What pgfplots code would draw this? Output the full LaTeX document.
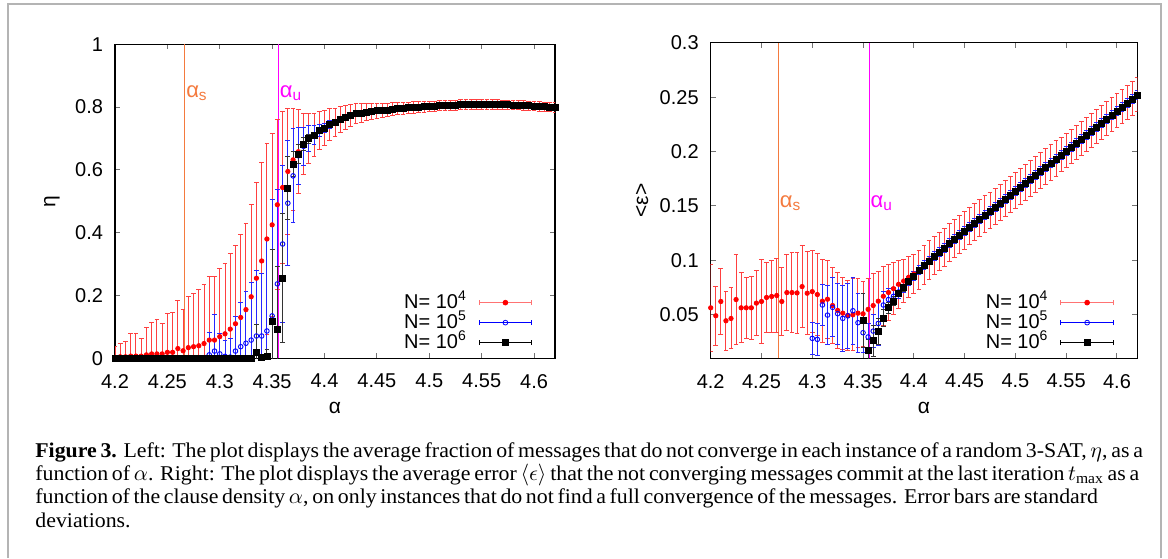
\documentclass[border=0pt]{standalone}
\usepackage{fontspec}
\setmainfont{Liberation Sans}
\newfontfamily\capfont{Liberation Serif}[FakeStretch=1.04]
\usepackage{pgfplots}
\usepackage{pgfplotstable}
\pgfplotsset{compat=1.18}

\definecolor{coral}{HTML}{F47A3E}
\definecolor{mag}{RGB}{255,0,255}
\definecolor{framegray}{HTML}{B4B4B4}

% eta, N=1e4 / 1e5 / 1e6 : alpha, value, std
\pgfplotstableread{
a v e
4.200 0.003 0.034
4.205 0.005 0.043
4.210 0.005 0.048
4.215 0.007 0.071
4.220 0.007 0.071
4.225 0.007 0.057
4.230 0.011 0.087
4.235 0.014 0.101
4.240 0.014 0.108
4.245 0.014 0.098
4.250 0.019 0.124
4.255 0.019 0.128
4.260 0.031 0.153
4.265 0.024 0.132
4.270 0.034 0.163
4.275 0.037 0.170
4.280 0.040 0.178
4.285 0.047 0.187
4.290 0.058 0.202
4.295 0.058 0.202
4.300 0.069 0.216
4.305 0.078 0.225
4.310 0.093 0.240
4.315 0.110 0.248
4.320 0.130 0.263
4.325 0.155 0.275
4.330 0.196 0.293
4.335 0.255 0.305
4.340 0.310 0.312
4.345 0.380 0.305
4.350 0.425 0.291
4.355 0.489 0.270
4.360 0.544 0.242
4.365 0.595 0.202
4.370 0.632 0.162
4.375 0.658 0.133
4.380 0.682 0.098
4.385 0.700 0.079
4.390 0.712 0.068
4.395 0.726 0.060
4.400 0.733 0.055
4.405 0.744 0.050
4.410 0.751 0.046
4.415 0.760 0.042
4.420 0.767 0.038
4.425 0.772 0.035
4.430 0.779 0.032
4.435 0.781 0.030
4.440 0.784 0.028
4.445 0.786 0.026
4.450 0.788 0.024
4.455 0.790 0.023
4.460 0.791 0.022
4.465 0.794 0.021
4.470 0.796 0.020
4.475 0.797 0.019
4.480 0.798 0.018
4.485 0.799 0.018
4.490 0.800 0.017
4.495 0.801 0.017
4.500 0.802 0.016
4.505 0.803 0.016
4.510 0.804 0.016
4.515 0.805 0.016
4.520 0.806 0.016
4.525 0.806 0.016
4.530 0.807 0.016
4.535 0.807 0.016
4.540 0.808 0.016
4.545 0.808 0.016
4.550 0.808 0.016
4.555 0.808 0.016
4.560 0.808 0.015
4.565 0.808 0.015
4.570 0.807 0.015
4.575 0.807 0.015
4.580 0.806 0.015
4.585 0.806 0.015
4.590 0.805 0.015
4.595 0.804 0.015
4.600 0.803 0.015
4.605 0.802 0.015
4.610 0.801 0.015
4.615 0.800 0.015
4.620 0.799 0.015
}\etaRed

\pgfplotstableread{
a v e
4.200 0 0
4.205 0 0
4.210 0 0
4.215 0 0
4.220 0 0
4.225 0 0
4.230 0 0
4.235 0 0
4.240 0 0
4.245 0 0
4.250 0 0
4.255 0 0
4.260 0 0
4.265 0 0
4.270 0 0
4.275 0 0
4.280 0 0
4.285 0 0
4.290 0.011 0.070
4.295 0.023 0.115
4.300 0.014 0.065
4.305 0.006 0.050
4.310 0.004 0.060
4.315 0.023 0.110
4.320 0.037 0.140
4.325 0.048 0.166
4.330 0.058 0.184
4.335 0.071 0.208
4.340 0.071 0.200
4.345 0.087 0.290
4.350 0.135 0.370
4.355 0.237 0.300
4.360 0.364 0.250
4.365 0.494 0.200
4.370 0.581 0.150
4.375 0.645 0.090
4.380 0.675 0.060
4.385 0.700 0.040
4.390 0.712 0.030
4.395 0.726 0.020
4.400 0.733 0.015
4.405 0.744 0.012
4.410 0.751 0.010
4.415 0.760 0.008
4.420 0.767 0.007
4.425 0.772 0.006
4.430 0.779 0.006
4.435 0.781 0.006
4.440 0.784 0.005
4.445 0.786 0.005
4.450 0.788 0.005
4.455 0.790 0.005
4.460 0.791 0.005
4.465 0.794 0.005
4.470 0.796 0.005
4.475 0.797 0.005
4.480 0.798 0.005
4.485 0.799 0.005
4.490 0.800 0.005
4.495 0.801 0.005
4.500 0.802 0.005
4.505 0.803 0.005
4.510 0.804 0.005
4.515 0.805 0.005
4.520 0.806 0.005
4.525 0.806 0.005
4.530 0.807 0.005
4.535 0.807 0.005
4.540 0.808 0.005
4.545 0.808 0.005
4.550 0.808 0.005
4.555 0.808 0.005
4.560 0.808 0.005
4.565 0.808 0.005
4.570 0.807 0.005
4.575 0.807 0.005
4.580 0.806 0.005
4.585 0.806 0.005
4.590 0.805 0.005
4.595 0.804 0.005
4.600 0.803 0.005
4.605 0.802 0.005
4.610 0.801 0.005
4.615 0.800 0.005
4.620 0.799 0.005
}\etaBlue

\pgfplotstableread{
a v e
4.200 0 0
4.205 0 0
4.210 0 0
4.215 0 0
4.220 0 0
4.225 0 0
4.230 0 0
4.235 0 0
4.240 0 0
4.245 0 0
4.250 0 0
4.255 0 0
4.260 0 0
4.265 0 0
4.270 0 0
4.275 0 0
4.280 0 0
4.285 0 0
4.290 0 0
4.295 0 0
4.300 0 0
4.305 0 0
4.310 0 0
4.315 0 0
4.320 0 0
4.325 0 0
4.330 0 0
4.335 0.019 0.090
4.340 0.002 0.010
4.345 0.007 0.020
4.350 0.117 0.230
4.355 0.092 0.200
4.360 0.255 0.205
4.365 0.542 0.100
4.370 0.619 0.040
4.375 0.650 0.030
4.380 0.682 0.020
4.385 0.699 0.015
4.390 0.709 0.010
4.395 0.726 0.008
4.400 0.733 0.006
4.405 0.744 0.004
4.410 0.751 0.004
4.415 0.760 0.004
4.420 0.767 0.004
4.425 0.772 0.004
4.430 0.779 0.004
4.435 0.781 0.004
4.440 0.784 0.004
4.445 0.786 0.004
4.450 0.788 0.004
4.455 0.790 0.004
4.460 0.791 0.004
4.465 0.794 0.004
4.470 0.796 0.004
4.475 0.797 0.004
4.480 0.798 0.004
4.485 0.799 0.004
4.490 0.800 0.004
4.495 0.801 0.004
4.500 0.802 0.004
4.505 0.803 0.004
4.510 0.804 0.004
4.515 0.805 0.004
4.520 0.806 0.004
4.525 0.806 0.004
4.530 0.807 0.004
4.535 0.807 0.004
4.540 0.808 0.004
4.545 0.808 0.004
4.550 0.808 0.004
4.555 0.808 0.004
4.560 0.808 0.004
4.565 0.808 0.004
4.570 0.807 0.004
4.575 0.807 0.004
4.580 0.806 0.004
4.585 0.806 0.004
4.590 0.805 0.004
4.595 0.804 0.004
4.600 0.803 0.004
4.605 0.802 0.004
4.610 0.801 0.004
4.615 0.800 0.004
4.620 0.799 0.004
}\etaBlack

% <epsilon>, N=1e4 / 1e5 / 1e6
\pgfplotstableread{
a v e
4.200 0.0564 0.040
4.205 0.0491 0.027
4.210 0.0622 0.030
4.215 0.0445 0.027
4.220 0.0466 0.028
4.225 0.0640 0.041
4.230 0.0564 0.032
4.235 0.0564 0.028
4.240 0.0564 0.029
4.245 0.0607 0.030
4.250 0.0622 0.039
4.255 0.0659 0.032
4.260 0.0668 0.033
4.265 0.0677 0.034
4.270 0.0622 0.031
4.275 0.0704 0.035
4.280 0.0704 0.037
4.285 0.0701 0.037
4.290 0.0759 0.038
4.295 0.0698 0.038
4.300 0.0713 0.038
4.305 0.0686 0.038
4.310 0.0625 0.038
4.315 0.0643 0.036
4.320 0.0585 0.035
4.325 0.0540 0.035
4.330 0.0515 0.033
4.335 0.0494 0.032
4.340 0.0500 0.033
4.345 0.0515 0.032
4.350 0.0509 0.030
4.355 0.0550 0.028
4.360 0.0585 0.029
4.365 0.0625 0.027
4.370 0.0670 0.027
4.375 0.0705 0.026
4.380 0.0740 0.024
4.385 0.0780 0.022
4.390 0.0810 0.020
4.395 0.0845 0.019
4.400 0.0875 0.018
4.405 0.0915 0.018
4.410 0.0960 0.0178
4.415 0.1004 0.0178
4.420 0.1043 0.0177
4.425 0.1080 0.0176
4.430 0.1120 0.0175
4.435 0.1166 0.0175
4.440 0.1203 0.0174
4.445 0.1239 0.0173
4.450 0.1276 0.0172
4.455 0.1313 0.0171
4.460 0.1349 0.0170
4.465 0.1386 0.0170
4.470 0.1423 0.0169
4.475 0.1459 0.0168
4.480 0.1496 0.0167
4.485 0.1533 0.0166
4.490 0.1569 0.0166
4.495 0.1606 0.0165
4.500 0.1643 0.0165
4.505 0.1679 0.0164
4.510 0.1716 0.0164
4.515 0.1753 0.0163
4.520 0.1789 0.0163
4.525 0.1826 0.0162
4.530 0.1863 0.0162
4.535 0.1899 0.0161
4.540 0.1936 0.0161
4.545 0.1973 0.0160
4.550 0.2009 0.0160
4.555 0.2046 0.0159
4.560 0.2083 0.0159
4.565 0.2119 0.0158
4.570 0.2156 0.0158
4.575 0.2193 0.0157
4.580 0.2229 0.0157
4.585 0.2266 0.0156
4.590 0.2303 0.0156
4.595 0.2339 0.0156
4.600 0.2376 0.0155
4.605 0.2413 0.0155
4.610 0.2449 0.0155
4.615 0.2486 0.0155
4.620 0.2523 0.0155
}\epsRed

\pgfplotstableread{
a v e
4.300 0.0283 0.015
4.305 0.0274 0.015
4.310 0.0590 0.019
4.315 0.0497 0.027
4.320 0.0568 0.027
4.325 0.0510 0.028
4.330 0.0467 0.030
4.335 0.0490 0.030
4.340 0.0537 0.031
4.345 0.0427 0.027
4.350 0.0335 0.018
4.355 0.0296 0.012
4.360 0.0350 0.015
4.365 0.0420 0.020
4.370 0.0590 0.012
4.375 0.0640 0.010
4.380 0.0670 0.008
4.385 0.0710 0.006
4.390 0.0753 0.005
4.395 0.0812 0.004
4.400 0.0854 0.004
4.405 0.0909 0.004
4.410 0.0955 0.004
4.415 0.0999 0.004
4.420 0.1038 0.004
4.425 0.1075 0.004
4.430 0.1115 0.004
4.435 0.1161 0.004
4.440 0.1198 0.004
4.445 0.1234 0.004
4.450 0.1271 0.004
4.455 0.1308 0.004
4.460 0.1344 0.004
4.465 0.1381 0.004
4.470 0.1418 0.004
4.475 0.1454 0.004
4.480 0.1491 0.004
4.485 0.1528 0.004
4.490 0.1564 0.004
4.495 0.1601 0.004
4.500 0.1638 0.004
4.505 0.1674 0.004
4.510 0.1711 0.004
4.515 0.1748 0.004
4.520 0.1784 0.004
4.525 0.1821 0.004
4.530 0.1858 0.004
4.535 0.1894 0.004
4.540 0.1931 0.004
4.545 0.1968 0.004
4.550 0.2004 0.004
4.555 0.2041 0.004
4.560 0.2078 0.004
4.565 0.2114 0.004
4.570 0.2151 0.004
4.575 0.2188 0.004
4.580 0.2224 0.004
4.585 0.2261 0.004
4.590 0.2298 0.004
4.595 0.2334 0.004
4.600 0.2371 0.004
4.605 0.2408 0.004
4.610 0.2444 0.004
4.615 0.2481 0.004
4.620 0.2518 0.004
}\epsBlue

\pgfplotstableread{
a v e
4.350 0.0450 0.025
4.355 0.0170 0.010
4.360 0.0260 0.014
4.365 0.0350 0.012
4.370 0.0470 0.008
4.375 0.0565 0.005
4.380 0.0626 0.004
4.385 0.0697 0.003
4.390 0.0748 0.003
4.395 0.0807 0.002
4.400 0.0849 0.002
4.405 0.0904 0.002
4.410 0.0950 0.002
4.415 0.0994 0.002
4.420 0.1033 0.002
4.425 0.1070 0.002
4.430 0.1110 0.002
4.435 0.1156 0.002
4.440 0.1193 0.002
4.445 0.1229 0.002
4.450 0.1266 0.002
4.455 0.1303 0.002
4.460 0.1339 0.002
4.465 0.1376 0.002
4.470 0.1413 0.002
4.475 0.1449 0.002
4.480 0.1486 0.002
4.485 0.1523 0.002
4.490 0.1559 0.002
4.495 0.1596 0.002
4.500 0.1633 0.002
4.505 0.1669 0.002
4.510 0.1706 0.002
4.515 0.1743 0.002
4.520 0.1779 0.002
4.525 0.1816 0.002
4.530 0.1853 0.002
4.535 0.1889 0.002
4.540 0.1926 0.002
4.545 0.1963 0.002
4.550 0.1999 0.002
4.555 0.2036 0.002
4.560 0.2073 0.002
4.565 0.2109 0.002
4.570 0.2146 0.002
4.575 0.2183 0.002
4.580 0.2219 0.002
4.585 0.2256 0.002
4.590 0.2293 0.002
4.595 0.2329 0.002
4.600 0.2366 0.002
4.605 0.2403 0.002
4.610 0.2439 0.002
4.615 0.2476 0.002
4.620 0.2513 0.002
}\epsBlack

\pgfplotsset{
  panel/.style={
    scale only axis,
    xmin=4.2, xmax=4.62,
    xtick={4.2,4.25,4.3,4.35,4.4,4.45,4.5,4.55,4.6},
    tick align=inside,
    major tick length=2.6pt,
    every tick/.style={black!55, line width=0.5pt},
    axis line style={line width=0.6pt},
    /pgf/number format/assume math mode=true,
    /pgf/number format/fixed,
    /pgf/number format/precision=2,
    ticklabel style={font=\fontsize{10}{12}\selectfont},
    xticklabel style={yshift=-4.4pt},
    yticklabel style={xshift=-2.5pt},
    xlabel={α},
    label style={font=\fontsize{10.5}{12}\selectfont},
    legend style={draw=none, fill=none, inner sep=0pt, outer sep=0pt,
      column sep=5.7pt, row sep=0pt,
      nodes={inner sep=0.25pt, text height=7.5pt, text depth=2pt, font=\fontsize{10}{12}\selectfont}},
    legend cell align=right,
    legend plot pos=right,
  },
  errleg/.style={legend image code/.code={
    \draw[##1,mark=none] (0pt,0pt) -- (26.3pt,0pt);
    \draw[##1,mark=none] (0pt,-1.3pt) -- (0pt,1.3pt) (26.3pt,-1.3pt) -- (26.3pt,1.3pt);
    \draw[##1] plot[only marks] coordinates {(13.15pt,0pt)};
  }},
  ebars/.style={
    error bars/y dir=both, error bars/y explicit,
    error bars/error bar style={#1, line width=0.5pt},
    error bars/error mark options={rotate=90, #1, mark size=1.2pt, line width=0.5pt}},
  sred/.style={only marks, mark=*, mark size=1.1pt, red, mark options={fill=red}, ebars=red!75},
  sblue/.style={only marks, mark=o, mark size=1.15pt, blue, mark options={line width=0.45pt}, ebars=blue!85},
  sblack/.style={only marks, mark=square*, mark size=1.5pt, black, ebars=black!80},
}

\begin{document}
\begin{tikzpicture}
\useasboundingbox (0,0) rectangle (584pt,279pt);
\draw[framegray, line width=0.7pt] (4pt,0pt) -- (4pt,277pt) -- (580.5pt,277pt) -- (580.5pt,0pt);

% left panel: eta
\begin{axis}[panel,
  at={(57.5pt,99.85pt)}, anchor=south west,
  width=220pt, height=157pt,
  ymin=0, ymax=1, ytick={0,0.2,0.4,0.6,0.8,1},
  ylabel={η},
  xlabel style={at={(axis description cs:0.5,-0.1585)}, anchor=center},
  ylabel style={at={(axis description cs:-0.1432,0.5)}, anchor=center},
  legend style={at={(0.948,0.018)}, anchor=south east},
]
\addplot[forget plot, coral, line width=0.5pt] coordinates {(4.2667,0) (4.2667,1)};
\addplot[forget plot, mag, line width=0.5pt] coordinates {(4.356,0) (4.356,1)};
\addplot[forget plot, sred] table[x=a, y=v, y error=e] {\etaRed};
\addplot[forget plot, sblue] table[x=a, y=v, y error=e] {\etaBlue};
\addplot[forget plot, sblack] table[x=a, y=v, y error=e] {\etaBlack};
\node[coral, anchor=base west, inner sep=0.5pt, font=\fontsize{11}{12}\selectfont] at (axis cs:4.2667,0.831) {α\textsubscript{s}};
\node[mag, anchor=base west, inner sep=0.5pt, font=\fontsize{11}{12}\selectfont] at (axis cs:4.356,0.831) {α\textsubscript{u}};
\addlegendimage{errleg, red!55, mark=*, mark size=1.2pt, mark options={red, fill=red}}
\addlegendentry{N= 10\textsuperscript{4}}
\addlegendimage{errleg, blue, mark=o, mark size=1.2pt, mark options={blue}}
\addlegendentry{N= 10\textsuperscript{5}}
\addlegendimage{errleg, black, mark=square*, mark size=1.5pt, mark options={black}}
\addlegendentry{N= 10\textsuperscript{6}}
\end{axis}

% right panel: <epsilon>
\begin{axis}[panel,
  at={(355.35pt,99.85pt)}, anchor=south west,
  width=213.3pt, height=157.8pt,
  ymin=0.01, ymax=0.3, ytick={0.05,0.1,0.15,0.2,0.25,0.3},
  ylabel={<ε>},
  xlabel style={at={(axis description cs:0.5,-0.1585)}, anchor=center},
  ylabel style={at={(axis description cs:-0.161,0.5)}, anchor=center},
  legend style={at={(0.945,0.018)}, anchor=south east},
]
\addplot[forget plot, coral, line width=0.5pt] coordinates {(4.2667,0.01) (4.2667,0.3)};
\addplot[forget plot, mag, line width=0.5pt] coordinates {(4.356,0.01) (4.356,0.3)};
\addplot[forget plot, sred] table[x=a, y=v, y error=e] {\epsRed};
\addplot[forget plot, sblue] table[x=a, y=v, y error=e] {\epsBlue};
\addplot[forget plot, sblack] table[x=a, y=v, y error=e] {\epsBlack};
\node[coral, anchor=base west, inner sep=0.5pt, font=\fontsize{11}{12}\selectfont] at (axis cs:4.2667,0.149) {α\textsubscript{s}};
\node[mag, anchor=base west, inner sep=0.5pt, font=\fontsize{11}{12}\selectfont] at (axis cs:4.356,0.149) {α\textsubscript{u}};
\addlegendimage{errleg, red!55, mark=*, mark size=1.2pt, mark options={red, fill=red}}
\addlegendentry{N= 10\textsuperscript{4}}
\addlegendimage{errleg, blue, mark=o, mark size=1.2pt, mark options={blue}}
\addlegendentry{N= 10\textsuperscript{5}}
\addlegendimage{errleg, black, mark=square*, mark size=1.5pt, mark options={black}}
\addlegendentry{N= 10\textsuperscript{6}}
\end{axis}

% caption, one block
\node[anchor=base west, inner sep=0pt, font=\capfont\fontsize{10.5}{11.65}\selectfont] at (17.5pt,50.35pt) {\vtop{\baselineskip=11.65pt
  \hbox{\makebox[552pt][s]{\textbf{Figure 3.} Left: The plot displays the average fraction of messages that do not converge in each instance of a random 3-SAT, $\eta$, as a}}
  \hbox{\makebox[552pt][s]{function of $\alpha$. Right: The plot displays the average error $\langle\epsilon\rangle$ that the not converging messages commit at the last iteration $t_{\hbox{\capfont\fontsize{7.5}{8}\selectfont max}}$ as a}}
  \hbox{\makebox[511pt][s]{function of the clause density $\alpha$, on only instances that do not find a full convergence of the messages. Error bars are standard}}
  \hbox{deviations.}}};
\end{tikzpicture}
\end{document}
